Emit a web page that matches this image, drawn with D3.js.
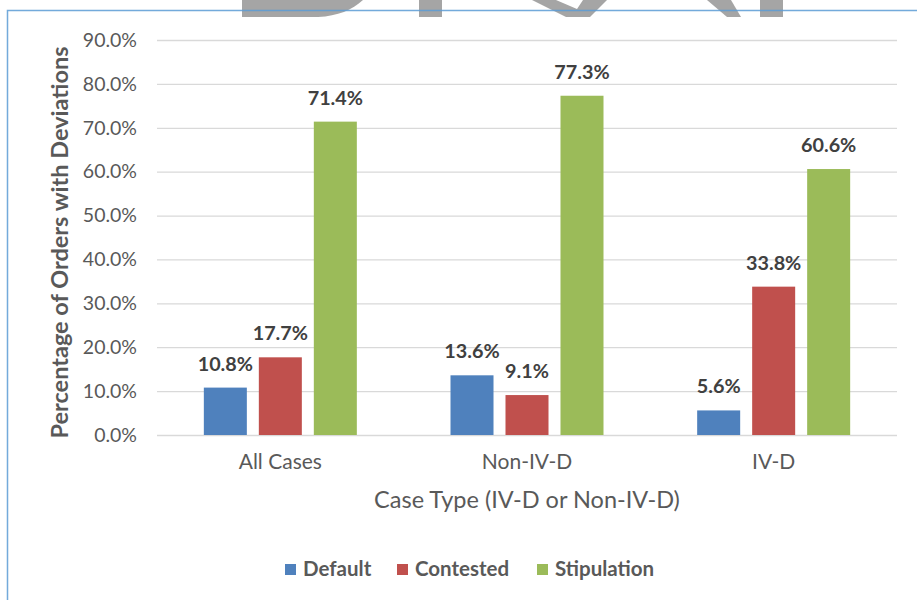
<!DOCTYPE html>
<html>
<head>
<meta charset="utf-8">
<script src="https://cdn.jsdelivr.net/npm/d3@7"></script>
<style>
  html, body { margin: 0; padding: 0; background: #fff; }
  svg { display: block; font-family: Lato, "Open Sans", sans-serif; }
</style>
</head>
<body>
<svg id="chart" width="917" height="600"></svg>
<script>
// ---- Data ----
const categories = ["All Cases", "Non-IV-D", "IV-D"];
const seriesNames = ["Default", "Contested", "Stipulation"];
const defaultValues = [10.8, 13.6, 5.6];
const contestedValues = [17.7, 9.1, 33.8];
const stipulationValues = [71.4, 77.3, 60.6];
const yTickValues = [0, 10, 20, 30, 40, 50, 60, 70, 80, 90];
const seriesColors = ["#4f81bd", "#c0504d", "#9bbb59"];
const yAxisTitle = "Percentage of Orders with Deviations";
const xAxisTitle = "Case Type (IV-D or Non-IV-D)";

const seriesValues = [defaultValues, contestedValues, stipulationValues];
const rows = categories.map((c, i) => ({
  category: c,
  values: seriesNames.map((s, j) => ({ series: s, value: seriesValues[j][i], color: seriesColors[j] }))
}));

const svg = d3.select("#chart");

// ---- Watermark fragments (bottom of large gray letters, cut off at top) ----
const wm = svg.append("g").attr("fill", "#8c8c8c").attr("fill-opacity", 0.78);
wm.append("path").attr("d", "M242,0 L363,0 C352,10 338,16 318,17 L242,17 Z");
wm.append("rect").attr("x", 419).attr("y", 0).attr("width", 23).attr("height", 17);
wm.append("path").attr("d", "M532,0 L556,0 L577,9 L583,0 L607,0 L590,17 L566,17 Z");
wm.append("path").attr("d", "M707,0 L731,0 L741,17 L727,17 Z");
wm.append("rect").attr("x", 760).attr("y", 0).attr("width", 23).attr("height", 17);

// ---- Frame ----
svg.append("rect")
  .attr("x", 7.5).attr("y", 10.5).attr("width", 930).attr("height", 620)
  .attr("fill", "none").attr("stroke", "#5b9bd5").attr("stroke-opacity", 0.85).attr("stroke-width", 1.5);

// ---- Scales ----
const plotLeft = 157, plotRight = 897, plotTop = 40, plotBottom = 435;
const y = d3.scaleLinear().domain([0, 90]).range([plotBottom, plotTop]);
const x0 = d3.scaleBand().domain(categories).range([plotLeft, plotRight]).paddingInner(0).paddingOuter(0);
const bw = x0.bandwidth();
const groupW = 153;
const x1 = d3.scaleBand().domain(seriesNames)
  .range([(bw - groupW) / 2, (bw + groupW) / 2]).paddingInner(0.218).paddingOuter(0);

// ---- Gridlines ----
const yAxis = d3.axisLeft(y).tickValues(yTickValues)
  .tickSize(-(plotRight - plotLeft)).tickPadding(20)
  .tickFormat(d => d.toFixed(1) + "%");
const gy = svg.append("g").attr("transform", `translate(${plotLeft},0)`).call(yAxis);
gy.select(".domain").remove();
gy.selectAll(".tick line").attr("stroke", "#d9d9d9").attr("stroke-width", 1.3);
gy.selectAll(".tick text").attr("fill", "#595959").attr("font-size", 19.5)
  .attr("font-family", "Lato, sans-serif");

// ---- Bars ----
const groups = svg.append("g").selectAll("g").data(rows).join("g")
  .attr("transform", d => `translate(${x0(d.category)},0)`);
groups.selectAll("rect").data(d => d.values).join("rect")
  .attr("x", d => x1(d.series))
  .attr("width", x1.bandwidth())
  .attr("y", d => y(d.value))
  .attr("height", d => y(0) - y(d.value))
  .attr("fill", d => d.color);
groups.selectAll("text").data(d => d.values).join("text")
  .attr("x", d => x1(d.series) + x1.bandwidth() / 2)
  .attr("y", d => y(d.value) - 17)
  .attr("text-anchor", "middle")
  .attr("font-size", 19.8).attr("font-weight", 700).attr("fill", "#404040")
  .text(d => d.value.toFixed(1) + "%");

// ---- X axis (labels only) ----
const xAxis = d3.axisBottom(x0).tickSize(0).tickPadding(19);
const gx = svg.append("g").attr("transform", `translate(0,${plotBottom})`).call(xAxis);
gx.select(".domain").remove();
gx.selectAll(".tick text").attr("fill", "#595959").attr("font-size", 21)
  .attr("font-family", "Lato, sans-serif");

// ---- Axis titles ----
svg.append("text")
  .attr("transform", `translate(68,${(plotTop + plotBottom) / 2 + 5}) rotate(-90)`)
  .attr("text-anchor", "middle").attr("font-size", 23.5).attr("font-weight", 700)
  .attr("fill", "#595959").text(yAxisTitle);
svg.append("text")
  .attr("x", (plotLeft + plotRight) / 2).attr("y", 508)
  .attr("text-anchor", "middle").attr("font-size", 23.5)
  .attr("fill", "#595959").text(xAxisTitle);

// ---- Legend ----
const legendX = [285, 397, 537];
const lg = svg.append("g").selectAll("g").data(seriesNames).join("g")
  .attr("transform", (d, i) => `translate(${legendX[i]},564)`);
lg.append("rect").attr("width", 11).attr("height", 11).attr("fill", (d, i) => seriesColors[i]);
lg.append("text").attr("x", 18).attr("y", 12)
  .attr("font-size", 20.5).attr("font-weight", 700).attr("fill", "#595959").text(d => d);
</script>
</body>
</html>
